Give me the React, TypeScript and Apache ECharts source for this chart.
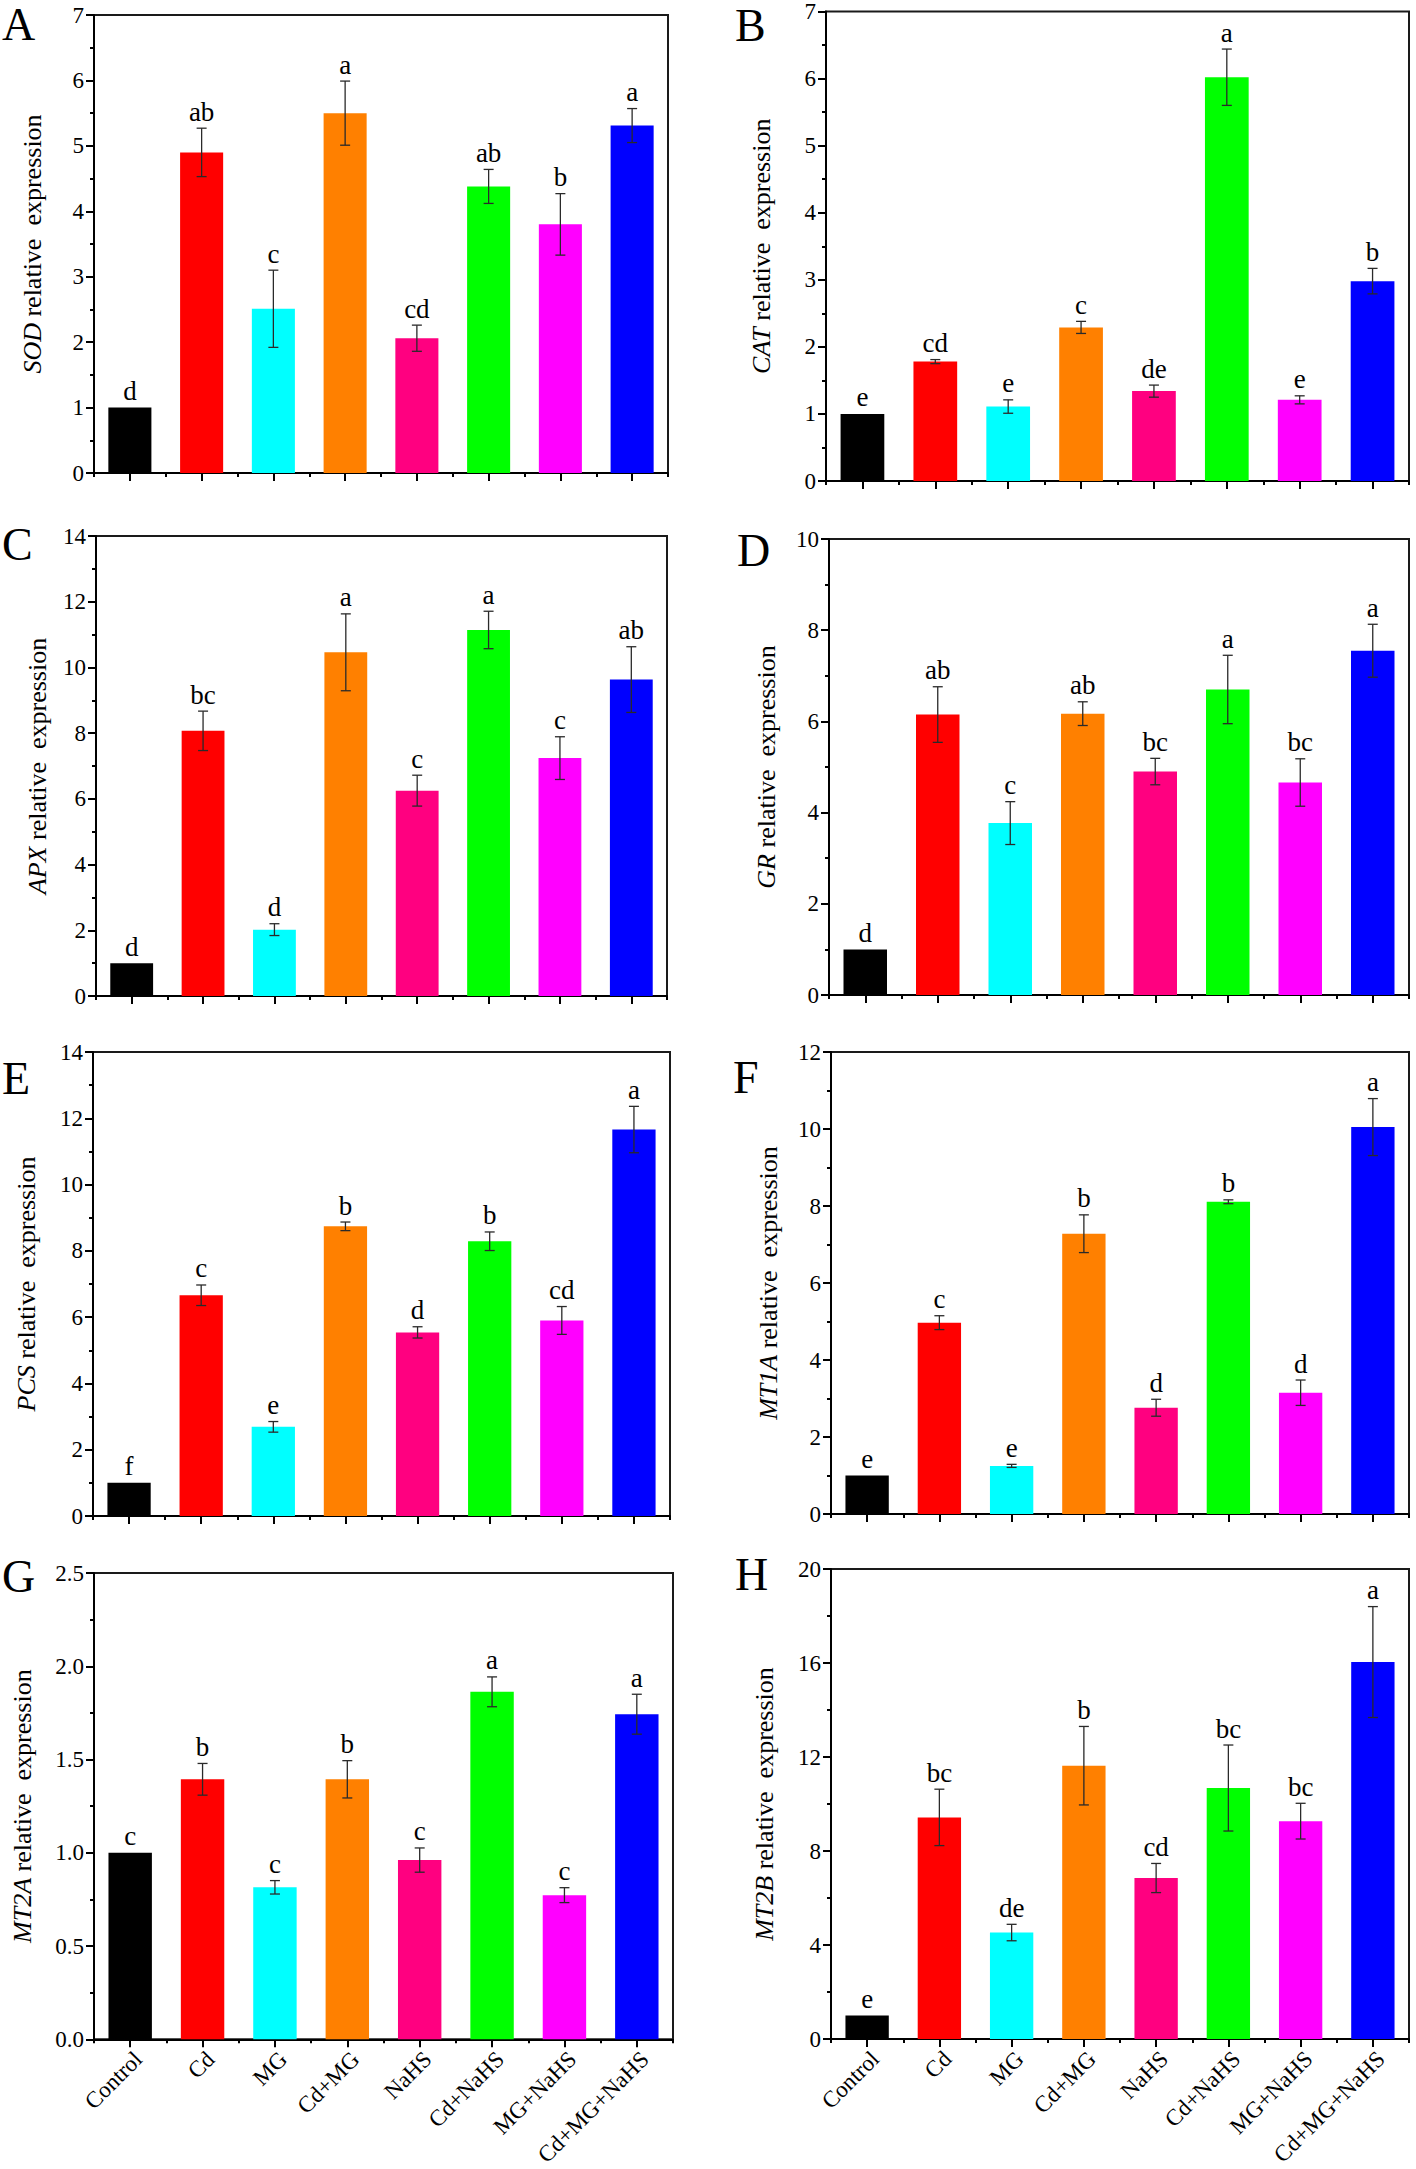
import React, { useEffect, useRef } from "react";
import * as echarts from "echarts";

const categories = ["Control", "Cd", "MG", "Cd+MG", "NaHS", "Cd+NaHS", "MG+NaHS", "Cd+MG+NaHS"];
const barColors = ["#000000", "#FF0000", "#00FFFF", "#FF8000", "#FF0080", "#00FF00", "#FF00FF", "#0000FF"];

const sodMean = [1.0, 4.9, 2.51, 5.5, 2.06, 4.38, 3.8, 5.31];
const sodErr = [0, 0.37, 0.59, 0.49, 0.2, 0.26, 0.47, 0.26];
const sodLetters = ["d", "ab", "c", "a", "cd", "ab", "b", "a"];

const catMean = [1.0, 1.78, 1.11, 2.29, 1.34, 6.02, 1.21, 2.98];
const catErr = [0, 0.03, 0.1, 0.09, 0.09, 0.42, 0.06, 0.19];
const catLetters = ["e", "cd", "e", "c", "de", "a", "e", "b"];

const apxMean = [1.0, 8.07, 2.02, 10.46, 6.25, 11.14, 7.24, 9.63];
const apxErr = [0, 0.6, 0.18, 1.17, 0.47, 0.57, 0.65, 1.0];
const apxLetters = ["d", "bc", "d", "a", "c", "a", "c", "ab"];

const grMean = [1.0, 6.15, 3.77, 6.17, 4.9, 6.7, 4.66, 7.55];
const grErr = [0, 0.61, 0.47, 0.26, 0.29, 0.75, 0.52, 0.58];
const grLetters = ["d", "ab", "c", "ab", "bc", "a", "bc", "a"];

const pcsMean = [1.0, 6.66, 2.69, 8.74, 5.54, 8.29, 5.9, 11.66];
const pcsErr = [0, 0.31, 0.16, 0.13, 0.17, 0.28, 0.42, 0.7];
const pcsLetters = ["f", "c", "e", "b", "d", "b", "cd", "a"];

const mt1aMean = [1.0, 4.97, 1.25, 7.28, 2.76, 8.11, 3.15, 10.05];
const mt1aErr = [0, 0.18, 0.04, 0.49, 0.22, 0.05, 0.33, 0.74];
const mt1aLetters = ["e", "c", "e", "b", "d", "b", "d", "a"];

const mt2aMean = [1.0, 1.394, 0.815, 1.394, 0.961, 1.863, 0.773, 1.743];
const mt2aErr = [0, 0.085, 0.036, 0.1, 0.065, 0.08, 0.04, 0.107];
const mt2aLetters = ["c", "b", "c", "b", "c", "a", "c", "a"];

const mt2bMean = [1.0, 9.43, 4.53, 11.63, 6.85, 10.68, 9.27, 16.04];
const mt2bErr = [0, 1.2, 0.35, 1.67, 0.62, 1.83, 0.76, 2.36];
const mt2bLetters = ["e", "bc", "de", "b", "cd", "bc", "bc", "a"];

const FONT = "'Liberation Serif', 'Times New Roman', serif";

type Panel = {
  tag: string; gene: string; mean: number[]; err: number[]; letters: string[];
  max: number; interval: number; decimals: number; showX: boolean;
  left: number; top: number; width: number; height: number; nameGap: number;
  tagX: number; tagY: number;
};

const panels: Panel[] = [
  { tag: "A", gene: "SOD", mean: sodMean, err: sodErr, letters: sodLetters, max: 7, interval: 1, decimals: 0, showX: false,
    left: 94, top: 15, width: 574, height: 458, nameGap: 49, tagX: 2, tagY: 24 },
  { tag: "B", gene: "CAT", mean: catMean, err: catErr, letters: catLetters, max: 7, interval: 1, decimals: 0, showX: false,
    left: 826, top: 11, width: 583, height: 470, nameGap: 52, tagX: 735, tagY: 25 },
  { tag: "C", gene: "APX", mean: apxMean, err: apxErr, letters: apxLetters, max: 14, interval: 2, decimals: 0, showX: false,
    left: 96, top: 536, width: 571, height: 460, nameGap: 46, tagX: 2, tagY: 544 },
  { tag: "D", gene: "GR", mean: grMean, err: grErr, letters: grLetters, max: 10, interval: 2, decimals: 0, showX: false,
    left: 829, top: 539, width: 580, height: 456, nameGap: 50, tagX: 737, tagY: 550 },
  { tag: "E", gene: "PCS", mean: pcsMean, err: pcsErr, letters: pcsLetters, max: 14, interval: 2, decimals: 0, showX: false,
    left: 93, top: 1052, width: 577, height: 464, nameGap: 54, tagX: 2, tagY: 1078 },
  { tag: "F", gene: "MT1A", mean: mt1aMean, err: mt1aErr, letters: mt1aLetters, max: 12, interval: 2, decimals: 0, showX: false,
    left: 831, top: 1052, width: 578, height: 462, nameGap: 50, tagX: 733, tagY: 1077 },
  { tag: "G", gene: "MT2A", mean: mt2aMean, err: mt2aErr, letters: mt2aLetters, max: 2.5, interval: 0.5, decimals: 1, showX: true,
    left: 94, top: 1573, width: 579, height: 467, nameGap: 59, tagX: 2, tagY: 1576 },
  { tag: "H", gene: "MT2B", mean: mt2bMean, err: mt2bErr, letters: mt2bLetters, max: 20, interval: 4, decimals: 0, showX: true,
    left: 831, top: 1569, width: 578, height: 470, nameGap: 54, tagX: 735, tagY: 1574 },
];

function buildOption() {
  const grid: any[] = [];
  const xAxis: any[] = [];
  const yAxis: any[] = [];
  const series: any[] = [];
  const graphic: any[] = [];

  panels.forEach((p, k) => {
    grid.push({
      left: p.left, top: p.top, width: p.width, height: p.height,
      show: true, borderColor: "#1a1a1a", borderWidth: 2, backgroundColor: "transparent",
      containLabel: false,
    });
    xAxis.push({
      type: "category", gridIndex: k, data: categories, position: "bottom",
      axisLine: { show: true, onZero: false, lineStyle: { color: "#000", width: 2 } },
      axisTick: { show: true, alignWithLabel: true, length: 8, interval: 0, lineStyle: { color: "#000", width: 2 } },
      axisLabel: {
        show: p.showX, interval: 0, rotate: 45, fontSize: 23, fontFamily: FONT, color: "#000",
        margin: 8, verticalAlign: "top", align: "right",
      },
      splitLine: { show: false },
    });
    xAxis.push({
      type: "category", gridIndex: k, data: categories, position: "bottom",
      axisLine: { show: false, onZero: false },
      axisTick: { show: true, alignWithLabel: false, length: 4, interval: 0, lineStyle: { color: "#000", width: 2 } },
      axisLabel: { show: false },
      splitLine: { show: false },
    });
    yAxis.push({
      type: "value", gridIndex: k, min: 0, max: p.max, interval: p.interval,
      name: `{i|${p.gene}} relative  expression`,
      nameLocation: "middle", nameGap: p.nameGap, nameRotate: 90,
      nameTextStyle: {
        fontSize: 26, fontFamily: FONT, color: "#000",
        rich: { i: { fontStyle: "italic", fontSize: 26, fontFamily: FONT, color: "#000" } },
      },
      axisLine: { show: true, onZero: false, lineStyle: { color: "#000", width: 2 } },
      axisTick: { show: true, length: 8, lineStyle: { color: "#000", width: 2 } },
      minorTick: { show: true, splitNumber: 2, length: 4, lineStyle: { color: "#000", width: 2 } },
      axisLabel: {
        fontSize: 23, fontFamily: FONT, color: "#000", margin: 10,
        formatter: (v: number) => v.toFixed(p.decimals),
      },
      splitLine: { show: false },
      minorSplitLine: { show: false },
    });

    series.push({
      type: "bar", xAxisIndex: 2 * k, yAxisIndex: k, barWidth: "60%",
      data: p.mean.map((v, i) => ({ value: v, itemStyle: { color: barColors[i] } })),
      z: 2,
    });

    const errStyle = { stroke: "#2a2a2a", lineWidth: 1.3 };
    series.push({
      type: "custom", xAxisIndex: 2 * k, yAxisIndex: k, z: 5,
      data: p.mean.map((v, i) => [i, v, p.err[i]]),
      renderItem: (params: any, api: any) => {
        const i = api.value(0);
        const m = api.value(1);
        const e = api.value(2);
        if (!e) return { type: "group", children: [] };
        const t = api.coord([i, m + e]);
        const b = api.coord([i, m - e]);
        const hw = 5;
        return {
          type: "group",
          children: [
            { type: "line", shape: { x1: t[0], y1: t[1], x2: b[0], y2: b[1] }, style: errStyle },
            { type: "line", shape: { x1: t[0] - hw, y1: t[1], x2: t[0] + hw, y2: t[1] }, style: errStyle },
            { type: "line", shape: { x1: b[0] - hw, y1: b[1], x2: b[0] + hw, y2: b[1] }, style: errStyle },
          ],
        };
      },
    });

    series.push({
      type: "custom", xAxisIndex: 2 * k, yAxisIndex: k, z: 6,
      data: p.mean.map((v, i) => [i, v + p.err[i]]),
      renderItem: (params: any, api: any) => {
        const i = api.value(0);
        const top = api.value(1);
        const c = api.coord([i, top]);
        return {
          type: "text",
          x: c[0], y: c[1] - 3,
          style: {
            text: p.letters[params.dataIndex], fontSize: 27, fontFamily: FONT, fill: "#000",
            align: "center", verticalAlign: "bottom",
          },
        };
      },
    });

    graphic.push({
      type: "text", x: p.tagX, y: p.tagY,
      style: { text: p.tag, fontSize: 46, fontFamily: FONT, fill: "#000", align: "left", verticalAlign: "middle" },
    });
  });

  return { animation: false, backgroundColor: "#ffffff", grid, xAxis, yAxis, series, graphic };
}

export default function App() {
  const ref = useRef<HTMLDivElement>(null);
  useEffect(() => {
    if (!ref.current) return;
    const chart = echarts.init(ref.current, undefined, { renderer: "svg" });
    chart.setOption(buildOption() as any);
    return () => chart.dispose();
  }, []);
  return (
    <div
      ref={ref}
      style={{ position: "absolute", left: 0, top: 0, width: 1416, height: 2169, background: "#fff" }}
    />
  );
}
